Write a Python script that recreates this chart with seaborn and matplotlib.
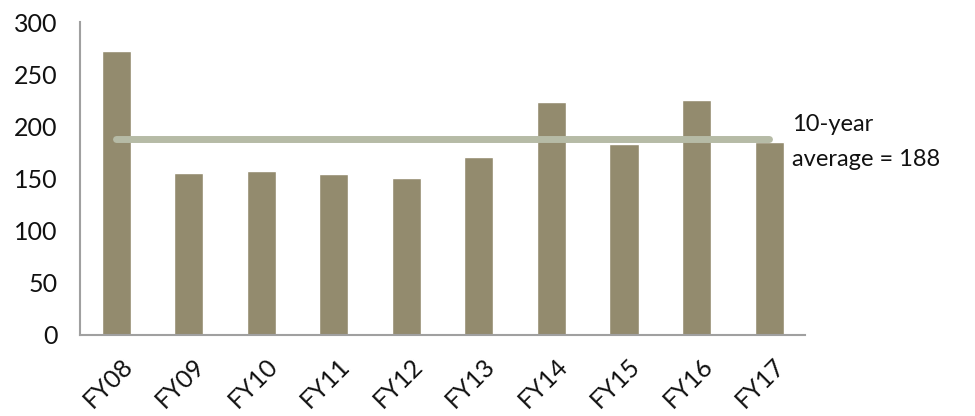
import matplotlib
matplotlib.use("Agg")
import matplotlib.pyplot as plt
import matplotlib.transforms as mtransforms
import seaborn as sns
import pandas as pd

categories = ["FY08", "FY09", "FY10", "FY11", "FY12", "FY13", "FY14", "FY15", "FY16", "FY17"]
values = [272, 155, 157, 154, 150, 171, 223, 183, 225, 185]
average_value = 188
yticks = [0, 50, 100, 150, 200, 250, 300]

sns.set_theme(style="white")
plt.rcParams['font.family'] = ['Lato', 'DejaVu Sans']

fig = plt.figure(figsize=(9.75, 4.16), dpi=100)
ax = fig.add_axes([0.082, 0.195, 0.744, 0.752])

df = pd.DataFrame({"cat": categories, "val": values})
sns.barplot(data=df, x="cat", y="val", color="#938B6E", width=0.4, saturation=1, ax=ax)

ax.plot([0, len(categories) - 1], [average_value, average_value], color="#B6BBA6",
        linewidth=5, solid_capstyle="round", zorder=5)

ax.set_xlim(-0.5, len(categories) - 0.5)
ax.set_ylim(0, 300)
ax.set_yticks(yticks)
ax.set_yticklabels([str(t) for t in yticks], fontsize=18, color="#111111")
ax.set_xticks(range(len(categories)))
ax.set_xticklabels(categories, rotation=45, ha="right", rotation_mode="anchor", fontsize=18, color="#111111")
ax.set_xlabel("")
ax.set_ylabel("")
ax.tick_params(axis="y", length=0, pad=16)
ax.tick_params(axis="x", length=0, pad=14)
offset = mtransforms.ScaledTranslation(3 / 72, 0, fig.dpi_scale_trans)
for lbl in ax.get_xticklabels():
    lbl.set_transform(lbl.get_transform() + offset)

for s in ["top", "right"]:
    ax.spines[s].set_visible(False)
for s in ["left", "bottom"]:
    ax.spines[s].set_color("#A0A0A0")
    ax.spines[s].set_linewidth(1.5)

ax.text(9.32, 185, "10-year\naverage = 188", fontsize=17, color="#111111",
        ha="left", va="center", linespacing=1.85)

fig.savefig("out.png", dpi=100)
